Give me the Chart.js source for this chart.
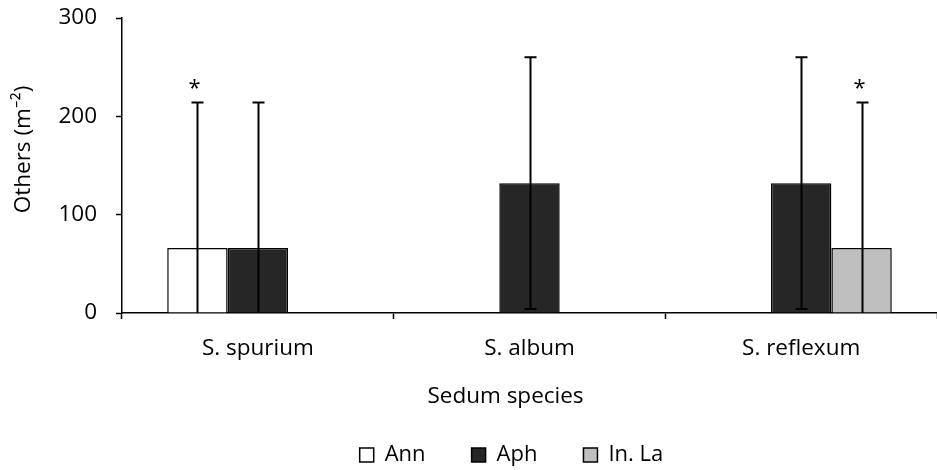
<!DOCTYPE html>
<html>
<head>
<meta charset="utf-8">
<script src="https://cdn.jsdelivr.net/npm/chart.js@4/dist/chart.umd.min.js"></script>
<style>
  html, body { margin: 0; padding: 0; background: #ffffff; }
  #wrap { width: 937px; height: 470px; position: relative; }
</style>
</head>
<body>
<div id="wrap"><canvas id="chart"></canvas></div>
<script>
// Sedum species and the mean density of "others" per group (m^-2)
const categories = ['S. spurium', 'S. album', 'S. reflexum'];
const annValues  = [66, 0, 0];
const aphValues  = [66, 132, 132];
const inLaValues = [0, 0, 66];

// standard deviations drawn as error bars
const annErrors  = [148, 0, 0];
const aphErrors  = [148, 128, 128];
const inLaErrors = [0, 0, 148];

// significance markers placed above the error bars
const annMarks  = ['*', '', ''];
const aphMarks  = ['', '', ''];
const inLaMarks = ['', '', '*'];

const yTicks = [0, 100, 200, 300];

const FONT = "'Open Sans', 'Liberation Sans', sans-serif";

// draws the error bars and the significance markers on top of the bars
const errorBarPlugin = {
  id: 'errorBars',
  afterDatasetsDraw(chart) {
    const ctx = chart.ctx;
    const y = chart.scales.y;
    const area = chart.chartArea;
    ctx.save();
    ctx.beginPath();
    ctx.rect(area.left, area.top - 60, area.right - area.left, area.bottom - area.top + 60);
    ctx.clip();
    chart.data.datasets.forEach((ds, i) => {
      const meta = chart.getDatasetMeta(i);
      if (meta.hidden) return;
      meta.data.forEach((bar, j) => {
        const v = ds.data[j];
        const err = ds.errors[j];
        const x = Math.round(bar.x) + 0.5;
        let topPx = y.getPixelForValue(v);
        if (err) {
          topPx = y.getPixelForValue(v + err);
          const low = v - err;
          const botPx = y.getPixelForValue(Math.max(low, 0));
          ctx.strokeStyle = '#000000';
          ctx.lineWidth = 2;
          ctx.beginPath();
          ctx.moveTo(x, topPx);
          ctx.lineTo(x, botPx);
          ctx.moveTo(x - 6, topPx);
          ctx.lineTo(x + 6, topPx);
          if (low >= 0) {
            ctx.moveTo(x - 6, botPx);
            ctx.lineTo(x + 6, botPx);
          }
          ctx.stroke();
        }
        const mark = ds.marks[j];
        if (mark) {
          ctx.fillStyle = '#000000';
          ctx.font = '22px ' + FONT;
          ctx.textAlign = 'center';
          ctx.textBaseline = 'middle';
          ctx.fillText(mark, x - 3, topPx - 14);
        }
      });
    });
    ctx.restore();
  }
};

// keeps the legend band compact and centred under the plot
const legendBandPlugin = {
  id: 'legendBand',
  beforeLayout(chart) {
    const lg = chart.legend;
    if (lg && !lg.__bandFit) {
      const baseFit = lg.fit;
      lg.fit = function () {
        baseFit.call(this);
        this.height = 72;
      };
      lg.__bandFit = true;
    }
  },
  afterLayout(chart) {
    const lg = chart.legend;
    if (lg) {
      lg.left -= 18;
      lg.right -= 18;
    }
  }
};

// nudges the axis titles (x: left, y: up) the way the figure places them
const titleNudgePlugin = {
  id: 'titleNudge',
  afterLayout(chart, args, opts) {
    Object.keys(opts.shift || {}).forEach(id => {
      const sc = chart.scales[id];
      if (!sc || sc.__nudged) return;
      const [dx, dy] = opts.shift[id];
      const baseDraw = sc.drawTitle;
      sc.drawTitle = function () {
        const c = this.ctx;
        c.save();
        c.translate(dx, dy);
        baseDraw.apply(this, arguments);
        c.restore();
      };
      sc.__nudged = true;
    });
  }
};

new Chart(document.getElementById('chart'), {
  type: 'bar',
  data: {
    labels: categories,
    datasets: [
      { label: 'Ann', data: annValues, errors: annErrors, marks: annMarks,
        backgroundColor: '#ffffff', borderColor: '#000000', borderWidth: 1.5 },
      { label: 'Aph', data: aphValues, errors: aphErrors, marks: aphMarks,
        backgroundColor: '#262626', borderColor: '#000000', borderWidth: 1.5 },
      { label: 'In. La', data: inLaValues, errors: inLaErrors, marks: inLaMarks,
        backgroundColor: '#bfbfbf', borderColor: '#000000', borderWidth: 1.5 }
    ]
  },
  options: {
    responsive: true,
    maintainAspectRatio: false,
    animation: false,
    devicePixelRatio: 1,
    layout: { padding: { top: 18, right: 0, bottom: 0, left: 0 } },
    datasets: {
      bar: { categoryPercentage: 0.667, barPercentage: 1.0, borderSkipped: 'start' }
    },
    scales: {
      x: {
        offset: true,
        grid: {
          display: true, offset: true, drawOnChartArea: false, drawTicks: true,
          tickLength: 6, tickWidth: 1.5, tickColor: '#000000'
        },
        border: { display: true, color: '#000000', width: 1.5 },
        ticks: { color: '#000000', padding: 16, font: { family: FONT, size: 22.5 } },
        title: {
          display: true, text: 'Sedum species', color: '#000000',
          font: { family: FONT, size: 22.5 }, padding: { top: 0, bottom: -12 }
        },
        afterFit(scale) { scale.height = 85; }
      },
      y: {
        min: 0,
        max: 300,
        afterBuildTicks(scale) { scale.ticks = yTicks.map(v => ({ value: v })); },
        grid: {
          display: true, drawOnChartArea: false, drawTicks: true,
          tickLength: 6, tickWidth: 1.5, tickColor: '#000000'
        },
        border: { display: true, color: '#000000', width: 1.5 },
        ticks: { color: '#000000', padding: 19, font: { family: FONT, size: 22.5 } },
        title: {
          display: true, text: 'Others (m\u207B\u00B2)', color: '#000000',
          font: { family: FONT, size: 22.5 }, padding: { top: 10, bottom: 0 }
        },
        afterFit(scale) {
          scale.width = 122;
          scale.paddingTop = 0;
          scale.paddingBottom = 0;
        }
      }
    },
    plugins: {
      legend: {
        position: 'bottom',
        fullSize: false,
        labels: {
          color: '#000000',
          font: { family: FONT, size: 22 },
          boxWidth: 14,
          boxHeight: 14,
          padding: 46
        }
      },
      tooltip: { enabled: false },
      titleNudge: { shift: { x: [-24, 0], y: [0, -16] } }
    }
  },
  plugins: [errorBarPlugin, legendBandPlugin, titleNudgePlugin]
});
</script>
</body>
</html>
